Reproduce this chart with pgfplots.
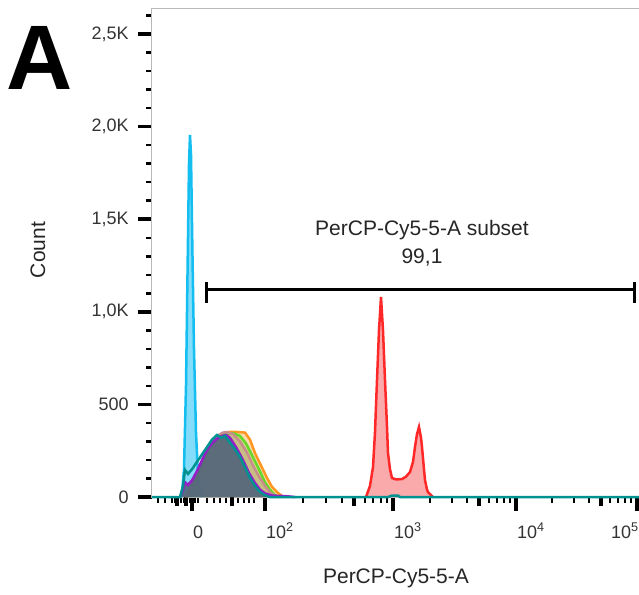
\documentclass[border=0pt]{standalone}
\usepackage{fontspec}
\setmainfont{Liberation Sans}
\usepackage{pgfplots}
\pgfplotsset{compat=1.18}

\definecolor{cyanline}{RGB}{20,190,240}
\definecolor{cyanfill}{RGB}{130,220,250}
\definecolor{redline}{RGB}{255,40,40}
\definecolor{redfill}{RGB}{250,170,170}
\definecolor{orangeline}{RGB}{255,150,30}
\definecolor{greenline}{RGB}{100,215,40}
\definecolor{pinkline}{RGB}{200,140,140}
\definecolor{purpleline}{RGB}{150,30,200}
\definecolor{tealline}{RGB}{0,145,145}
\definecolor{slatefill}{RGB}{80,100,122}

\begin{document}
\begin{tikzpicture}
\begin{axis}[
  x=0.6pt, y=0.11112pt,
  xmin=152, xmax=645, ymin=0, ymax=2640,
  clip=false,
  axis line style={gray!55, line width=0.6pt},
  tick align=outside, tick pos=left,
  major tick length=8.4pt, minor tick length=3.3pt,
  every major tick/.append style={black, line width=2.2pt},
  every minor tick/.append style={black, line width=1.5pt},
  xtick={192,265,393,516,637},
  xticklabels={0,10\textsuperscript{2},10\textsuperscript{3},10\textsuperscript{4},\llap{10\textsuperscript{5}}},
  minor xtick={158,165,172,175,178,181,184,187,190,195,198,
    207,214,220,226,238,244,249,254,
    303,326,342,365,373,381,387,
    430,452,467,489,497,504,510,
    552,574,589,610,618,625,631},
  extra x ticks={177,186,232,354,479,601},
  extra x tick labels={},
  extra x tick style={major tick length=5.6pt, tick style={line width=1.8pt}},
  ytick={0,500,1000,1500,2000,2500},
  yticklabels={0,500,{1,0K},{1,5K},{2,0K},{2,5K}},
  minor ytick={100,200,300,400,600,700,800,900,1100,1200,1300,1400,
    1600,1700,1800,1900,2100,2200,2300,2400,2600},
  xticklabel style={anchor=base west, inner sep=0pt, xshift=0.5pt, yshift=-16.2pt,
    font=\fontsize{10.8}{12}\selectfont, text=black!80},
  yticklabel style={anchor=east, inner sep=0pt, xshift=-5.4pt,
    font=\fontsize{10.8}{12}\selectfont, text=black!80},
]
% cyan sample
\addplot[draw=cyanline, fill=cyanfill, line width=1.5pt] coordinates {
  (180,0)(182,20)(184,150)(186,600)(187.5,1200)(189,1800)(190,1955)
  (191,1850)(192.5,1300)(194,800)(196,350)(198,120)(200,30)(202,0)};
% broad overlapping samples
\addplot[draw=orangeline, fill=orangeline, fill opacity=0.35, line width=1.5pt] coordinates {
  (185,0)(190,40)(197,110)(204,200)(211,280)(218,330)(224,345)(228,351)
  (236,352)(245,348)(250,310)(255,237)(261,170)(267,103)(272,55)(277,27)
  (282,5)(285,0)};
\addplot[draw=greenline, fill=greenline, fill opacity=0.35, line width=1.5pt] coordinates {
  (187,0)(195,90)(203,190)(210,270)(217,320)(224,340)(233,345)(240,330)
  (246,290)(253,216)(259,150)(265,80)(270,40)(275,10)(279,0)};
\addplot[draw=pinkline, fill=pinkline, fill opacity=0.35, line width=1.5pt] coordinates {
  (186,0)(195,100)(203,200)(210,280)(217,330)(223,348)(227,351)(233,340)
  (240,300)(247,240)(253,170)(259,110)(265,60)(270,25)(276,0)};
\addplot[draw=none, fill=slatefill, fill opacity=0.9] coordinates {
  (180,0)(183,40)(186,70)(192,90)(197,140)(203,205)(209,265)(215,310)
  (220,330)(225,335)(229,320)(236,270)(243,200)(249,130)(255,75)(261,35)
  (267,10)(272,0)};
\addplot[draw=purpleline, line width=1.5pt] coordinates {
  (180,0)(183,40)(185,80)(188,65)(192,90)(197,140)(202,200)(207,254)
  (212,290)(217,315)(222,330)(226,335)(230,320)(236,270)(243,200)(249,130)
  (255,76)(260,40)(265,20)(272,8)(285,5)(295,0)};
\addplot[draw=purpleline, line width=1.5pt] coordinates {
  (400,0)(402,6)(430,6)(433,0)};
% red sample
\addplot[draw=redline, fill=redfill, line width=1.5pt] coordinates {
  (366,0)(370,60)(373,162)(375,350)(377,632)(379,900)(381,1080)(383,900)
  (385,632)(387,380)(388,238)(390,150)(392,103)(396,95)(402,97)(406,110)
  (410,135)(413,190)(415,270)(417,340)(419,378)(421,320)(422,270)(424,150)
  (425,92)(427,40)(428,27)(433,0)};
% teal sample
\addplot[draw=tealline, line width=1.5pt] coordinates {
  (152,0)(180,0)(183,60)(185,146)(188,125)(192,150)(197,190)(202,230)
  (207,270)(212,310)(217,335)(221,320)(225,330)(229,300)(234,265)(240,216)
  (245,160)(250,103)(255,60)(260,27)(265,10)(270,0)(388,0)(392,8)(398,8)
  (400,0)(645,0)};

% gate
\draw[black, line width=1.8pt] (axis cs:207,1118) -- (axis cs:634,1118);
\draw[black, line width=1.8pt] (axis cs:207,1048) -- (axis cs:207,1161);
\draw[black, line width=1.8pt] (axis cs:634,1048) -- (axis cs:634,1161);
\node[font=\fontsize{12.6}{15}\selectfont, text=black!85] at (axis cs:422,1442) {PerCP-Cy5-5-A subset};
\node[font=\fontsize{12.6}{15}\selectfont, text=black!85] at (axis cs:422,1296) {99,1};

% labels
\node[rotate=90, font=\fontsize{12.6}{15}\selectfont, text=black!85] at (axis cs:38,1334) {Count};
\node[font=\fontsize{12.6}{15}\selectfont, text=black!85] at (axis cs:396,-437) {PerCP-Cy5-5-A};
\node[font=\fontsize{55}{60}\selectfont\bfseries] at (axis cs:40,2371) {A};

\coordinate (bl) at (axis cs:0,-524);
\coordinate (tr) at (axis cs:639,2684);
\end{axis}
\pgfresetboundingbox
\path[use as bounding box] (bl) rectangle (tr);
\end{tikzpicture}
\end{document}
